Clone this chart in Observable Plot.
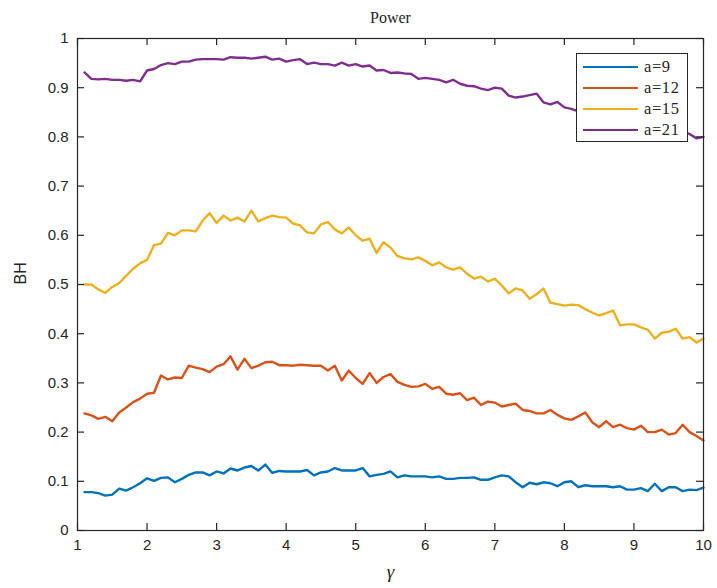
<!DOCTYPE html>
<html>
<head>
<meta charset="utf-8">
<script src="https://cdn.jsdelivr.net/npm/d3@7"></script>
<script src="https://cdn.jsdelivr.net/npm/@observablehq/plot@0.6"></script>
<style>
  html, body { margin: 0; padding: 0; background: #fff; }
  #wrap { position: relative; width: 717px; height: 588px; }
  #legend {
    position: absolute; left: 576px; top: 53px; width: 112px; height: 89px;
    border: 1px solid #262626; background: #fff; box-sizing: border-box;
    font-family: "Liberation Serif", "DejaVu Serif", serif; font-size: 16.5px; color: #262626;
    padding-top: 2px;
  }
  .row { display: flex; align-items: center; height: 21px; }
  .sw { width: 55px; height: 0; border-top: 2.4px solid; margin-left: 6px; margin-right: 6px; }
  .lab { letter-spacing: 0.6px; }
</style>
</head>
<body>
<div id="wrap"></div>
<script>
const title = "Power";
const xLabel = "γ";
const yLabel = "BH";
const seriesNames = ["a=9", "a=12", "a=15", "a=21"];
const seriesColors = ["#0072BD", "#D95319", "#EDB120", "#7E2F8E"];
const xTicks = [1, 2, 3, 4, 5, 6, 7, 8, 9, 10];
const yTicks = [0, 0.1, 0.2, 0.3, 0.4, 0.5, 0.6, 0.7, 0.8, 0.9, 1];

const gamma = [
  1.1,1.2,1.3,1.4,1.5,1.6,1.7,1.8,1.9,2.0,
  2.1,2.2,2.3,2.4,2.5,2.6,2.7,2.8,2.9,3.0,
  3.1,3.2,3.3,3.4,3.5,3.6,3.7,3.8,3.9,4.0,
  4.1,4.2,4.3,4.4,4.5,4.6,4.7,4.8,4.9,5.0,
  5.1,5.2,5.3,5.4,5.5,5.6,5.7,5.8,5.9,6.0,
  6.1,6.2,6.3,6.4,6.5,6.6,6.7,6.8,6.9,7.0,
  7.1,7.2,7.3,7.4,7.5,7.6,7.7,7.8,7.9,8.0,
  8.1,8.2,8.3,8.4,8.5,8.6,8.7,8.8,8.9,9.0,
  9.1,9.2,9.3,9.4,9.5,9.6,9.7,9.8,9.9,10.0
];

const a9 = [
  0.078,0.078,0.076,0.071,0.073,0.085,0.081,0.088,0.096,0.106,
  0.101,0.107,0.108,0.098,0.105,0.113,0.118,0.118,0.112,0.120,
  0.116,0.126,0.122,0.128,0.131,0.122,0.134,0.117,0.121,0.120,
  0.120,0.120,0.123,0.112,0.118,0.120,0.127,0.122,0.122,0.122,
  0.127,0.110,0.113,0.115,0.120,0.108,0.112,0.110,0.110,0.110,
  0.108,0.110,0.105,0.105,0.107,0.107,0.108,0.103,0.103,0.108,
  0.112,0.110,0.098,0.088,0.097,0.094,0.098,0.096,0.090,0.098,
  0.100,0.088,0.092,0.090,0.090,0.090,0.088,0.090,0.083,0.083,
  0.086,0.080,0.095,0.080,0.088,0.088,0.080,0.083,0.082,0.087
];

const a12 = [
  0.238,0.234,0.227,0.231,0.222,0.240,0.250,0.261,0.268,0.278,
  0.280,0.315,0.307,0.311,0.310,0.335,0.331,0.328,0.322,0.333,
  0.338,0.354,0.327,0.349,0.330,0.335,0.342,0.343,0.336,0.336,
  0.335,0.337,0.336,0.335,0.335,0.325,0.335,0.305,0.325,0.310,
  0.298,0.320,0.300,0.312,0.318,0.302,0.296,0.292,0.293,0.298,
  0.288,0.292,0.278,0.276,0.279,0.265,0.270,0.255,0.262,0.260,
  0.252,0.255,0.258,0.245,0.243,0.238,0.238,0.245,0.235,0.228,
  0.225,0.232,0.240,0.220,0.210,0.222,0.210,0.215,0.208,0.205,
  0.213,0.200,0.200,0.205,0.195,0.198,0.215,0.200,0.192,0.183
];

const a15 = [
  0.500,0.500,0.490,0.483,0.495,0.503,0.518,0.532,0.543,0.550,
  0.580,0.583,0.605,0.600,0.610,0.610,0.608,0.630,0.645,0.625,
  0.640,0.630,0.636,0.628,0.650,0.628,0.635,0.640,0.637,0.636,
  0.624,0.620,0.606,0.604,0.622,0.627,0.612,0.604,0.616,0.600,
  0.589,0.593,0.564,0.586,0.575,0.558,0.553,0.551,0.555,0.548,
  0.539,0.545,0.535,0.530,0.535,0.522,0.512,0.516,0.506,0.512,
  0.498,0.482,0.492,0.488,0.471,0.480,0.492,0.463,0.460,0.457,
  0.459,0.458,0.450,0.443,0.437,0.442,0.447,0.417,0.419,0.419,
  0.413,0.408,0.390,0.402,0.404,0.410,0.390,0.393,0.382,0.390
];

const a21 = [
  0.931,0.918,0.917,0.918,0.916,0.916,0.914,0.916,0.913,0.935,
  0.938,0.946,0.950,0.948,0.953,0.953,0.957,0.958,0.958,0.958,
  0.957,0.962,0.961,0.961,0.959,0.961,0.963,0.957,0.959,0.953,
  0.956,0.958,0.948,0.951,0.948,0.948,0.945,0.951,0.945,0.948,
  0.943,0.945,0.935,0.936,0.930,0.931,0.929,0.928,0.918,0.920,
  0.918,0.916,0.911,0.916,0.908,0.904,0.903,0.898,0.895,0.900,
  0.898,0.884,0.880,0.882,0.885,0.888,0.870,0.866,0.871,0.860,
  0.857,0.852,0.850,0.847,0.845,0.842,0.838,0.835,0.832,0.830,
  0.827,0.824,0.821,0.818,0.815,0.812,0.810,0.806,0.797,0.800
];

const seriesValues = [a9, a12, a15, a21];
const rows = [];
seriesNames.forEach((name, s) => {
  gamma.forEach((g, i) => rows.push({ series: name, gamma: g, value: seriesValues[s][i] }));
});

const sansFont = "'Liberation Sans', Arial, sans-serif";
const serifFont = "'Liberation Serif', 'DejaVu Serif', serif";

const W = 717, H = 588, mL = 77, mR = 14, mT = 38, mB = 58, tickLen = 7;
const frameW = W - mL - mR, frameH = H - mT - mB;
const tickStyle = { stroke: "#262626", strokeWidth: 1.2 };

const chart = Plot.plot({
  width: W,
  height: H,
  marginLeft: mL,
  marginRight: mR,
  marginTop: mT,
  marginBottom: mB,
  style: { fontFamily: sansFont, fontSize: "14px", color: "#262626", background: "#fff" },
  x: { domain: [1, 10] },
  y: { domain: [0, 1] },
  color: { domain: seriesNames, range: seriesColors },
  marks: [
    Plot.line(rows, { x: "gamma", y: "value", z: "series", stroke: "series", strokeWidth: 2.4, strokeLinejoin: "round" }),
    Plot.frame({ stroke: "#262626", strokeWidth: 1.2 }),
    // inward ticks on all four sides (MATLAB box style)
    Plot.tickX(xTicks, { x: d => d, insetTop: frameH - tickLen, ...tickStyle }),
    Plot.tickX(xTicks, { x: d => d, insetBottom: frameH - tickLen, ...tickStyle }),
    Plot.tickY(yTicks, { y: d => d, insetRight: frameW - tickLen, ...tickStyle }),
    Plot.tickY(yTicks, { y: d => d, insetLeft: frameW - tickLen, ...tickStyle }),
    Plot.axisX({ ticks: xTicks, anchor: "bottom", tickSize: 0, tickPadding: 9, label: null, fontSize: 15, fill: "#262626", tickFormat: d => String(d) }),
    Plot.axisY({ ticks: yTicks, anchor: "left", tickSize: 0, tickPadding: 9, label: null, fontSize: 15, fill: "#262626", tickFormat: d => String(d) }),
    Plot.text([title], { text: d => d, frameAnchor: "top", dy: -27, fontFamily: serifFont, fontSize: 16, fill: "#262626" }),
    Plot.text([yLabel], { text: d => d, frameAnchor: "left", rotate: -90, dx: -57, fontFamily: sansFont, fontSize: 16, fill: "#262626" }),
    Plot.text([xLabel], { text: d => d, frameAnchor: "bottom", dy: 47, fontFamily: serifFont, fontStyle: "italic", fontSize: 19, fill: "#262626" })
  ]
});

const wrap = document.getElementById("wrap");
wrap.appendChild(chart);

const legend = document.createElement("div");
legend.id = "legend";
seriesNames.forEach((name, i) => {
  const row = document.createElement("div");
  row.className = "row";
  const sw = document.createElement("div");
  sw.className = "sw";
  sw.style.borderTopColor = seriesColors[i];
  const lab = document.createElement("span");
  lab.className = "lab";
  lab.textContent = name;
  row.appendChild(sw);
  row.appendChild(lab);
  legend.appendChild(row);
});
wrap.appendChild(legend);
</script>
</body>
</html>
